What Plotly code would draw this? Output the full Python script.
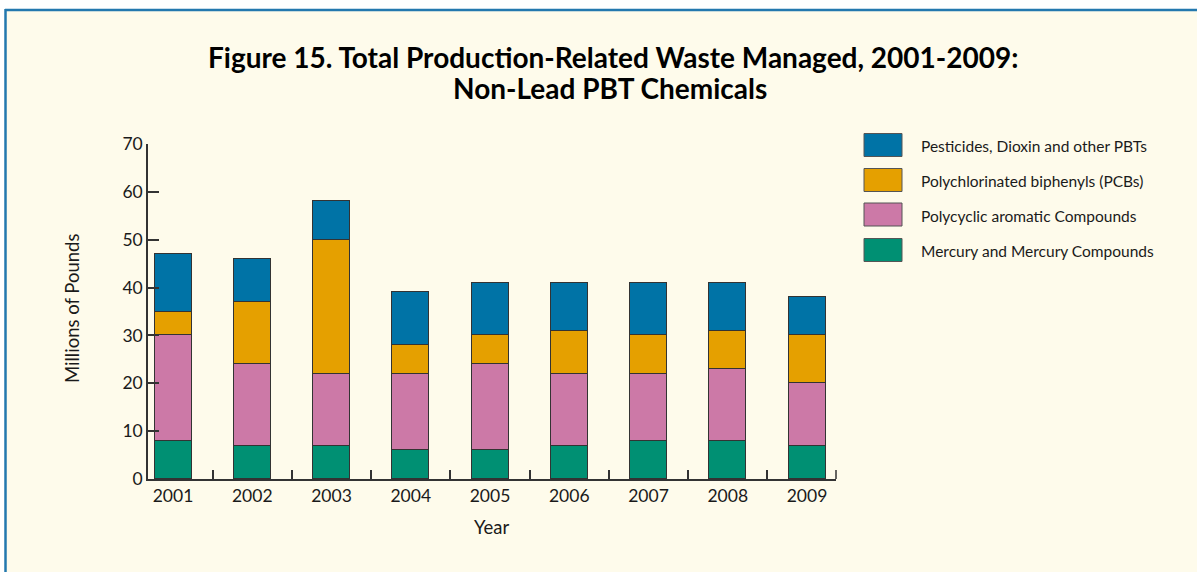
import plotly.graph_objects as go

years = [2001, 2002, 2003, 2004, 2005, 2006, 2007, 2008, 2009]
year_labels = [str(y) for y in years]
mercury = [8, 7, 7, 6, 6, 7, 8, 8, 7]
pac = [22, 17, 15, 16, 18, 15, 14, 15, 13]
pcbs = [5, 13, 28, 6, 6, 9, 8, 8, 10]
pesticides = [12, 9, 8, 11, 11, 10, 11, 10, 8]

series_names = [
    "Mercury and Mercury Compounds",
    "Polycyclic aromatic Compounds",
    "Polychlorinated biphenyls (PCBs)",
    "Pesticides, Dioxin and other PBTs",
]
series_values = [mercury, pac, pcbs, pesticides]
series_colors = ["#009073", "#CC79A7", "#E5A000", "#0073A6"]

W, H = 1197, 572
L, R, T, B = 148, 836, 144, 479  # plot area in pixels


def px(x):
    return (x - L) / (R - L)


def py(y):
    return (B - y) / (B - T)


FONT = "Lato"
CREAM = "#FEFBEB"
TXT = "#1a1a1a"

fig = go.Figure()
for name, vals, col in zip(series_names, series_values, series_colors):
    fig.add_trace(go.Bar(
        x=years, y=vals, name=name, width=0.467,
        marker=dict(color=col, line=dict(color="#333333", width=1)),
        showlegend=False,
    ))

shapes = [
    dict(type="rect", xref="paper", yref="paper", x0=px(5), x1=px(W + 5),
         y0=py(H + 5), y1=py(9), fillcolor=CREAM, line=dict(width=0), layer="below"),
    dict(type="line", xref="paper", yref="paper", x0=px(5), x1=px(W + 5),
         y0=py(10), y1=py(10), line=dict(color="#2378AE", width=2.5), layer="below"),
    dict(type="line", xref="paper", yref="paper", x0=px(5.5), x1=px(5.5),
         y0=py(9), y1=py(H + 5), line=dict(color="#2378AE", width=2.5), layer="below"),
    # end tick at right end of x axis
    dict(type="line", xref="paper", yref="paper", x0=1, x1=1,
         y0=0, y1=py(B - 9), line=dict(color="#333333", width=1.5)),
]

annotations = [
    dict(text="<b>Figure 15. Total Production-Related Waste Managed, 2001-2009:</b>",
         x=px(613), y=py(57), xref="paper", yref="paper", showarrow=False,
         xanchor="center", yanchor="middle", font=dict(family=FONT, size=28, color="#000")),
    dict(text="<b>Non-Lead PBT Chemicals</b>",
         x=px(610), y=py(88), xref="paper", yref="paper", showarrow=False,
         xanchor="center", yanchor="middle", font=dict(family=FONT, size=28, color="#000")),
    dict(text="Millions of Pounds", x=px(72), y=py(308), xref="paper", yref="paper",
         showarrow=False, textangle=-90, xanchor="center", yanchor="middle",
         font=dict(family=FONT, size=18.5, color=TXT)),
    dict(text="Year", x=px(491), y=py(527), xref="paper", yref="paper",
         showarrow=False, xanchor="center", yanchor="middle",
         font=dict(family=FONT, size=18.5, color=TXT)),
]

# custom legend (top to bottom: reversed stacking order)
leg_rows = [145, 180, 214.5, 250]
for (name, col), yc in zip(list(zip(series_names, series_colors))[::-1], leg_rows):
    shapes.append(dict(type="rect", xref="paper", yref="paper",
                       x0=px(864), x1=px(902), y0=py(yc + 11.5), y1=py(yc - 11.5),
                       fillcolor=col, line=dict(color="#555555", width=1)))
    annotations.append(dict(text=name, x=px(919), y=py(yc + 1), xref="paper", yref="paper",
                            showarrow=False, xanchor="left", yanchor="middle",
                            font=dict(family=FONT, size=15.5, color=TXT)))

x0_val = 2001 - (173 - L) / 79.25
x1_val = 2009 + (R - 807) / 79.25

fig.update_layout(
    width=W, height=H,
    margin=dict(l=L, r=W - R, t=T, b=H - B, pad=0),
    paper_bgcolor="white", plot_bgcolor="rgba(0,0,0,0)",
    barmode="stack", bargap=0,
    font=dict(family=FONT, size=17, color=TXT),
    shapes=shapes, annotations=annotations,
    xaxis=dict(
        range=[x0_val, x1_val], tickmode="array", tickvals=years, ticktext=year_labels,
        ticks="", showgrid=False, zeroline=False, showline=True,
        linecolor="#333333", linewidth=1.5,
        tickfont=dict(family=FONT, size=17.5, color=TXT),
        minor=dict(tickmode="array", tickvals=[y + 0.5 for y in years[:-1]],
                   ticks="inside", ticklen=9, tickcolor="#333333", tickwidth=1.5,
                   showgrid=False),
    ),
    yaxis=dict(
        range=[0, 70], tickmode="linear", tick0=0, dtick=10,
        ticks="inside", ticklen=11, tickcolor="#333333", tickwidth=1.5,
        showgrid=False, zeroline=False, showline=True,
        linecolor="#333333", linewidth=1.5,
        tickfont=dict(family=FONT, size=17.5, color=TXT),
    ),
)

fig.write_html("out.html",
               config={"displayModeBar": False},
               post_script="document.body.style.margin='0';document.body.style.overflow='hidden';")
